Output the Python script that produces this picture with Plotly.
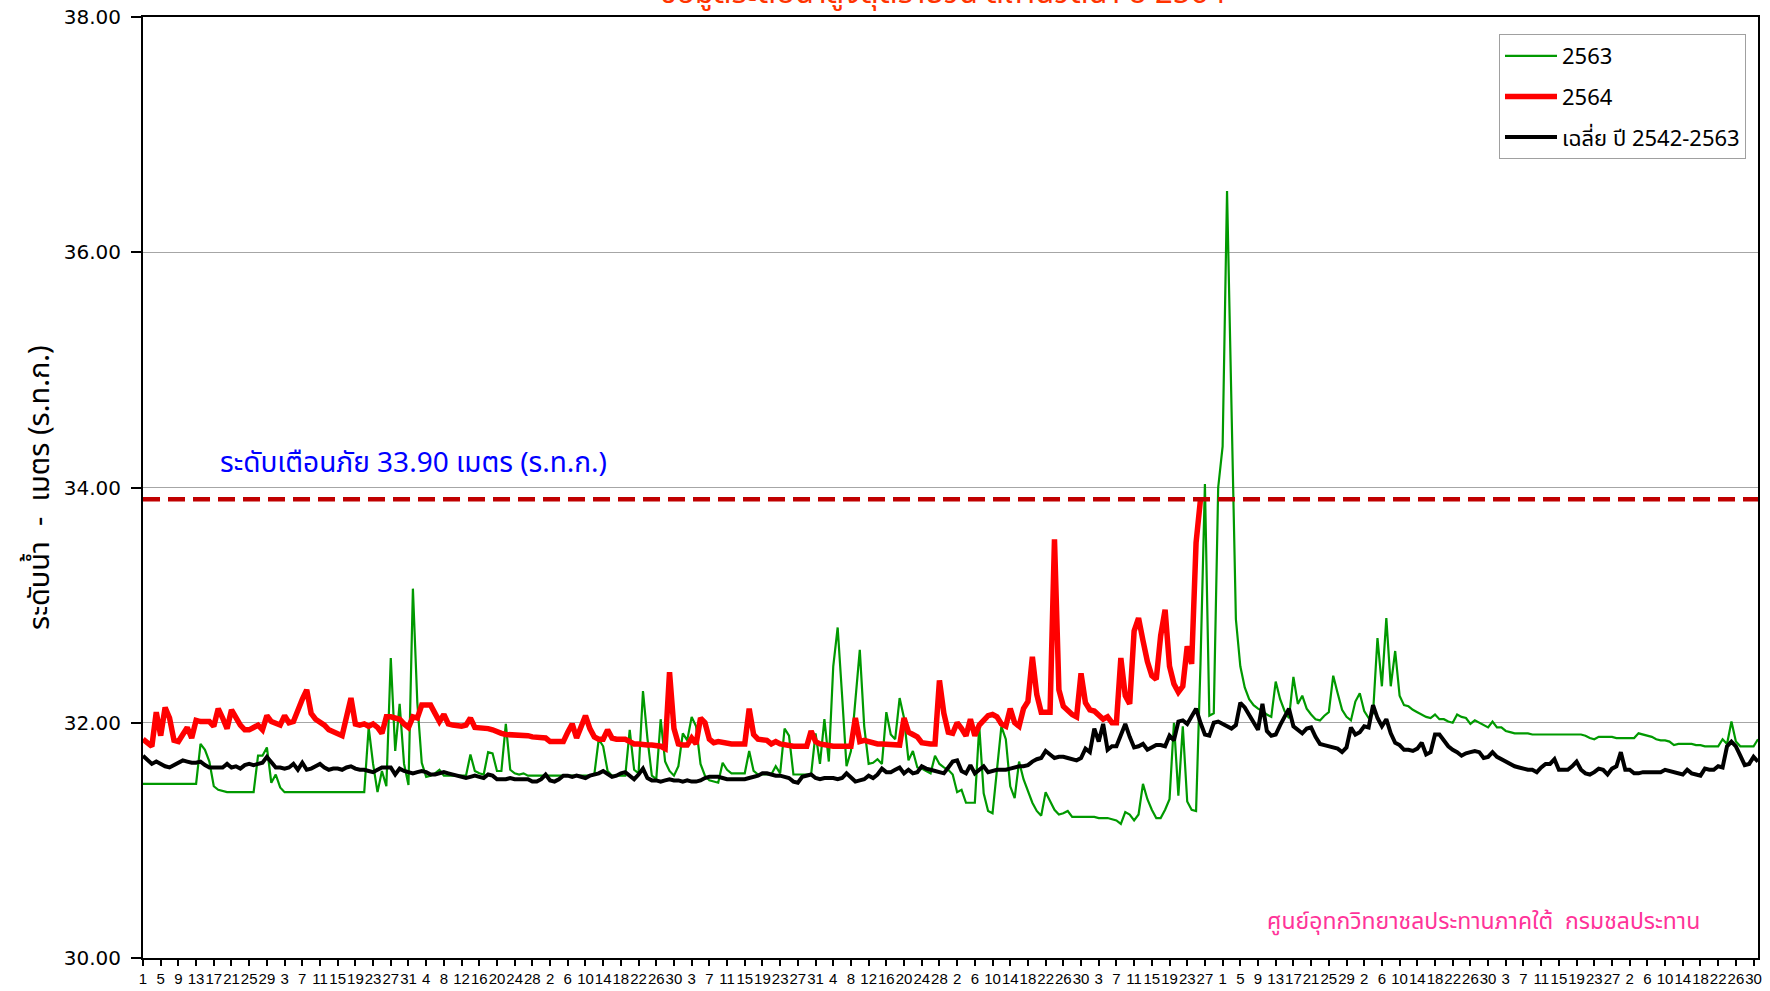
import plotly.graph_objects as go

# ---------------- data ----------------
days = list(range(366))  # 1 Apr .. 31 Mar (Feb with 29 days)

tick_labels = [
    "1", "5", "9", "13", "17", "21", "25", "29",
    "3", "7", "11", "15", "19", "23", "27", "31",
    "4", "8", "12", "16", "20", "24", "28",
    "2", "6", "10", "14", "18", "22", "26", "30",
    "3", "7", "11", "15", "19", "23", "27", "31",
    "4", "8", "12", "16", "20", "24", "28",
    "2", "6", "10", "14", "18", "22", "26", "30",
    "3", "7", "11", "15", "19", "23", "27",
    "1", "5", "9", "13", "17", "21", "25", "29",
    "2", "6", "10", "14", "18", "22", "26", "30",
    "3", "7", "11", "15", "19", "23", "27",
    "2", "6", "10", "14", "18", "22", "26", "30",
]
tick_positions = [4 * i for i in range(len(tick_labels))]

level_2563 = [
    31.48, 31.48, 31.48, 31.48, 31.48, 31.48, 31.48, 31.48, 31.48, 31.48,
    31.48, 31.48, 31.48, 31.82, 31.77, 31.67, 31.46, 31.43, 31.42, 31.41,
    31.41, 31.41, 31.41, 31.41, 31.41, 31.41, 31.72, 31.72, 31.79, 31.49,
    31.56, 31.45, 31.41, 31.41, 31.41, 31.41, 31.41, 31.41, 31.41, 31.41,
    31.41, 31.41, 31.41, 31.41, 31.41, 31.41, 31.41, 31.41, 31.41, 31.41,
    31.41, 31.96, 31.65, 31.41, 31.59, 31.46, 32.55, 31.76, 32.16, 31.65,
    31.47, 33.14, 32.17, 31.66, 31.54, 31.55, 31.57, 31.60, 31.55, 31.55,
    31.55, 31.55, 31.55, 31.55, 31.73, 31.59, 31.57, 31.56, 31.75, 31.74,
    31.59, 31.59, 31.99, 31.60, 31.57, 31.56, 31.57, 31.55, 31.55, 31.55,
    31.55, 31.55, 31.55, 31.55, 31.55, 31.55, 31.55, 31.55, 31.55, 31.55,
    31.55, 31.55, 31.56, 31.86, 31.80, 31.59, 31.55, 31.55, 31.55, 31.55,
    31.94, 31.60, 31.57, 32.27, 31.87, 31.55, 31.52, 32.03, 31.67, 31.59,
    31.55, 31.63, 31.91, 31.85, 32.05, 31.97, 31.65, 31.55, 31.51, 31.50,
    31.49, 31.66, 31.60, 31.57, 31.57, 31.57, 31.57, 31.76, 31.59, 31.56,
    31.56, 31.56, 31.56, 31.63, 31.57, 31.95, 31.89, 31.56, 31.56, 31.56,
    31.56, 31.56, 31.91, 31.65, 32.03, 31.67, 32.48, 32.81, 32.23, 31.63,
    31.76, 32.17, 32.62, 31.97, 31.65, 31.66, 31.69, 31.65, 32.09, 31.90,
    31.86, 32.21, 32.04, 31.68, 31.76, 31.62, 31.61, 31.59, 31.57, 31.72,
    31.65, 31.62, 31.60, 31.56, 31.41, 31.43, 31.32, 31.32, 31.32, 31.97,
    31.40, 31.25, 31.23, 31.60, 31.97, 31.86, 31.46, 31.36, 31.67, 31.52,
    31.42, 31.32, 31.25, 31.21, 31.41, 31.33, 31.26, 31.22, 31.23, 31.25,
    31.20, 31.20, 31.20, 31.20, 31.20, 31.20, 31.19, 31.19, 31.19, 31.18,
    31.17, 31.14, 31.24, 31.22, 31.17, 31.22, 31.48, 31.35, 31.26, 31.19,
    31.19, 31.26, 31.35, 32.00, 31.38, 31.97, 31.33, 31.26, 31.25, 32.50,
    34.03, 32.06, 32.08, 34.00, 34.35, 36.52, 34.60, 32.88, 32.48, 32.30,
    32.20, 32.15, 32.12, 32.10, 32.07, 32.05, 32.35, 32.20, 32.10, 32.04,
    32.39, 32.16, 32.23, 32.12, 32.07, 32.03, 32.02, 32.06, 32.09, 32.40,
    32.25, 32.11, 32.05, 32.02, 32.18, 32.25, 32.10, 32.04, 32.08, 32.72,
    32.31, 32.89, 32.31, 32.61, 32.23, 32.15, 32.14, 32.11, 32.09, 32.07,
    32.05, 32.04, 32.07, 32.03, 32.03, 32.01, 32.00, 32.07, 32.05, 32.04,
    31.99, 32.02, 32.00, 31.98, 31.96, 32.01, 31.96, 31.96, 31.93, 31.92,
    31.91, 31.91, 31.91, 31.91, 31.90, 31.90, 31.90, 31.90, 31.90, 31.90,
    31.90, 31.90, 31.90, 31.90, 31.90, 31.90, 31.89, 31.87, 31.86, 31.88,
    31.88, 31.88, 31.88, 31.87, 31.87, 31.87, 31.87, 31.87, 31.91, 31.90,
    31.89, 31.88, 31.86, 31.85, 31.85, 31.84, 31.81, 31.82, 31.82, 31.82,
    31.82, 31.81, 31.81, 31.80, 31.80, 31.80, 31.80, 31.86, 31.82, 32.01,
    31.84, 31.80, 31.80, 31.80, 31.80, 31.86,
]

level_2564 = [
    31.86, 31.83, 31.80, 32.09, 31.89, 32.13, 32.04, 31.85, 31.84, 31.90,
    31.96, 31.87, 32.02, 32.01, 32.01, 32.01, 31.97, 32.12, 32.04, 31.95,
    32.11, 32.04, 31.98, 31.94, 31.94, 31.96, 31.98, 31.94, 32.06, 32.01,
    32.00, 31.98, 32.06, 32.00, 32.01, 32.12, 32.20, 32.28, 32.08, 32.03,
    32.01, 31.98, 31.94, 31.92, 31.91, 31.89, 32.05, 32.21, 31.99, 31.98,
    31.99, 31.97, 31.99, 31.96, 31.91, 32.05, 32.05, 32.04, 32.03, 31.99,
    31.96, 32.05, 32.04, 32.15, 32.15, 32.15, 32.08, 32.01, 32.07, 31.99,
    31.98, 31.97, 31.97, 31.98, 32.04, 31.96, 31.96, 31.95, 31.95, 31.94,
    31.92, 31.91, 31.90, 31.90, 31.90, 31.90, 31.90, 31.89, 31.88, 31.88,
    31.87, 31.87, 31.84, 31.84, 31.84, 31.84, 31.92, 31.99, 31.87, 31.97,
    32.06, 31.95, 31.88, 31.86, 31.86, 31.94, 31.87, 31.86, 31.86, 31.86,
    31.84, 31.82, 31.82, 31.81, 31.81, 31.81, 31.81, 31.80, 31.78, 32.43,
    31.95, 31.82, 31.81, 31.81, 31.87, 31.82, 32.04, 32.00, 31.86, 31.83,
    31.84, 31.83, 31.82, 31.82, 31.82, 31.82, 31.82, 32.12, 31.90, 31.86,
    31.86, 31.85, 31.82, 31.84, 31.82, 31.81, 31.81, 31.80, 31.80, 31.80,
    31.80, 31.93, 31.84, 31.82, 31.81, 31.81, 31.80, 31.80, 31.80, 31.80,
    31.80, 32.04, 31.84, 31.85, 31.84, 31.82, 31.82, 31.82, 31.82, 31.81,
    31.81, 31.81, 32.04, 31.92, 31.90, 31.88, 31.83, 31.82, 31.82, 31.82,
    32.36, 32.08, 31.92, 31.91, 32.00, 31.95, 31.89, 32.03, 31.89, 31.98,
    32.02, 32.06, 32.07, 32.05, 31.99, 31.97, 32.12, 32.00, 31.97, 32.12,
    32.18, 32.56, 32.24, 32.09, 32.09, 32.09, 33.56, 32.28, 32.14, 32.10,
    32.07, 32.05, 32.42, 32.17, 32.11, 32.10, 32.06, 32.03, 32.05, 32.00,
    32.00, 32.55, 32.23, 32.16, 32.78, 32.89, 32.70, 32.52, 32.40, 32.37,
    32.74, 32.96, 32.48, 32.33, 32.26, 32.31, 32.65, 32.50, 33.53, 33.90,
]

level_avg = [
    31.72, 31.68, 31.65, 31.67, 31.65, 31.63, 31.62, 31.64, 31.66, 31.68,
    31.67, 31.66, 31.66, 31.67, 31.64, 31.62, 31.62, 31.62, 31.62, 31.65,
    31.62, 31.63, 31.61, 31.64, 31.65, 31.64, 31.65, 31.66, 31.71, 31.67,
    31.62, 31.62, 31.61, 31.62, 31.65, 31.60, 31.66, 31.60, 31.61, 31.63,
    31.65, 31.62, 31.60, 31.61, 31.61, 31.60, 31.62, 31.63, 31.61, 31.60,
    31.60, 31.59, 31.58, 31.60, 31.62, 31.62, 31.62, 31.56, 31.61, 31.59,
    31.58, 31.57, 31.58, 31.59, 31.58, 31.56, 31.56, 31.57, 31.58, 31.57,
    31.56, 31.55, 31.54, 31.53, 31.54, 31.55, 31.54, 31.53, 31.56, 31.55,
    31.52, 31.52, 31.52, 31.53, 31.52, 31.52, 31.52, 31.52, 31.50, 31.50,
    31.52, 31.56, 31.51, 31.50, 31.52, 31.55, 31.55, 31.54, 31.55, 31.54,
    31.53, 31.55, 31.56, 31.57, 31.59, 31.56, 31.54, 31.55, 31.57, 31.58,
    31.55, 31.52, 31.56, 31.61, 31.53, 31.51, 31.51, 31.50, 31.51, 31.52,
    31.51, 31.51, 31.50, 31.51, 31.50, 31.50, 31.51, 31.53, 31.54, 31.54,
    31.54, 31.53, 31.52, 31.52, 31.52, 31.52, 31.52, 31.53, 31.54, 31.55,
    31.57, 31.57, 31.56, 31.55, 31.55, 31.54, 31.53, 31.50, 31.49, 31.54,
    31.55, 31.56, 31.53, 31.52, 31.53, 31.53, 31.53, 31.52, 31.53, 31.57,
    31.53, 31.50, 31.51, 31.52, 31.55, 31.53, 31.56, 31.61, 31.58, 31.58,
    31.60, 31.62, 31.57, 31.60, 31.57, 31.58, 31.63, 31.61, 31.60, 31.59,
    31.58, 31.57, 31.62, 31.67, 31.68, 31.59, 31.57, 31.64, 31.57, 31.60,
    31.63, 31.58, 31.59, 31.60, 31.60, 31.60, 31.61, 31.62, 31.63, 31.63,
    31.64, 31.67, 31.69, 31.70, 31.76, 31.73, 31.70, 31.71, 31.71, 31.70,
    31.69, 31.68, 31.70, 31.78, 31.75, 31.95, 31.84, 31.99, 31.77, 31.80,
    31.80, 31.90, 31.99, 31.88, 31.79, 31.80, 31.82, 31.77, 31.79, 31.81,
    31.81, 31.80, 31.89, 31.85, 32.01, 32.02, 31.99, 32.05, 32.12, 32.00,
    31.90, 31.89, 32.00, 32.01, 31.99, 31.97, 31.95, 31.98, 32.17, 32.13,
    32.07, 32.00, 31.94, 32.16, 31.93, 31.89, 31.90, 31.98, 32.05, 32.12,
    31.97, 31.94, 31.91, 31.95, 31.96, 31.88, 31.82, 31.81, 31.80, 31.79,
    31.78, 31.75, 31.79, 31.96, 31.90, 31.92, 31.97, 31.96, 32.15, 32.04,
    31.97, 32.03, 31.91, 31.83, 31.81, 31.77, 31.77, 31.76, 31.78, 31.83,
    31.73, 31.75, 31.90, 31.90, 31.85, 31.80, 31.77, 31.75, 31.72, 31.74,
    31.75, 31.76, 31.75, 31.70, 31.71, 31.75, 31.71, 31.69, 31.67, 31.65,
    31.63, 31.62, 31.61, 31.60, 31.60, 31.58, 31.62, 31.65, 31.65, 31.69,
    31.60, 31.60, 31.60, 31.63, 31.67, 31.60, 31.57, 31.56, 31.58, 31.61,
    31.60, 31.56, 31.61, 31.63, 31.75, 31.60, 31.60, 31.57, 31.57, 31.58,
    31.58, 31.58, 31.58, 31.58, 31.60, 31.59, 31.58, 31.57, 31.56, 31.60,
    31.57, 31.56, 31.55, 31.61, 31.60, 31.60, 31.63, 31.62, 31.80, 31.84,
    31.80, 31.72, 31.64, 31.65, 31.71, 31.67,
]

warning_level = 33.90
series_names = ["2563", "2564", "เฉลี่ย ปี 2542-2563"]

# ---------------- layout geometry ----------------
W, H = 1770, 991
ML, MR, MT, MB = 143, 12, 17, 33
PW, PH = W - ML - MR, H - MT - MB


def px_x(x):
    return (x - ML) / PW


def px_y(y):
    return (H - MB - y) / PH


THAI = "Tahoma, 'Noto Sans Thai', 'Leelawadee UI', 'DejaVu Sans', sans-serif"

fig = go.Figure()
fig.add_trace(go.Scatter(x=days[:len(level_2563)], y=level_2563, mode="lines",
                         name=series_names[0], legendgroup="a",
                         line=dict(color="#009900", width=2.2)))
fig.add_trace(go.Scatter(x=days[:len(level_2564)], y=level_2564, mode="lines",
                         name=series_names[1], legendgroup="b",
                         line=dict(color="#FF0000", width=5.5)))
fig.add_trace(go.Scatter(x=days[:len(level_avg)], y=level_avg, mode="lines",
                         name=series_names[2], legendgroup="c",
                         line=dict(color="#000000", width=4)))

fig.add_shape(type="line", xref="x", yref="y", x0=0, x1=365,
              y0=warning_level, y1=warning_level,
              line=dict(color="#C00000", width=4.5, dash="17px,8px"))

annotations = [
    dict(x=17.0, y=34.20, xref="x", yref="y", xanchor="left", yanchor="middle",
         showarrow=False, text="ระดับเตือนภัย 33.90 เมตร (ร.ท.ก.)",
         font=dict(family=THAI, size=28, color="#0000FF")),
    dict(x=px_x(1483), y=px_y(922), xref="paper", yref="paper",
         xanchor="center", yanchor="middle", showarrow=False,
         text="ศูนย์อุทกวิทยาชลประทานภาคใต้  กรมชลประทาน",
         font=dict(family=THAI, size=23, color="#FF3399")),
    dict(x=px_x(943), y=1, xref="paper", yref="paper", xanchor="center",
         yanchor="bottom", yshift=-2, showarrow=False,
         text="ข้อมูลระดับน้ำสูงสุดรายวัน สถานีวัดน้ำ ปี 2564",
         font=dict(family=THAI, size=31, color="#FF3300")),
    dict(x=px_x(40), y=px_y(487), xref="paper", yref="paper",
         xanchor="center", yanchor="middle", textangle=-90, showarrow=False,
         text="ระดับน้ำ  -  เมตร (ร.ท.ก.)",
         font=dict(family=THAI, size=29, color="#000000")),
]

fig.update_layout(
    width=W, height=H,
    margin=dict(l=ML, r=MR, t=MT, b=MB, autoexpand=False),
    paper_bgcolor="white", plot_bgcolor="white",
    showlegend=True,
    annotations=annotations,
    legend=dict(x=px_x(1746), y=px_y(34), xanchor="right", yanchor="top",
                bgcolor="white", bordercolor="#A0A0A0", borderwidth=1,
                font=dict(family=THAI, size=22, color="#000000"),
                itemwidth=52, tracegroupgap=9, traceorder="grouped"),
    xaxis=dict(range=[0, 365], tickmode="array", tickvals=tick_positions,
               ticktext=tick_labels, ticks="outside", ticklen=6,
               tickcolor="#000000", tickwidth=1.5, automargin=False,
               showline=True, linecolor="#000000", linewidth=2, mirror=True,
               showgrid=False, zeroline=False, tickangle=0,
               tickfont=dict(family="'Liberation Sans Narrow', 'Arial Narrow', sans-serif",
                             size=15, color="#000000")),
    yaxis=dict(range=[30, 38], tickvals=[30, 32, 34, 36, 38],
               ticktext=["30.00", "32.00", "34.00", "36.00", "38.00"],
               ticks="outside", ticklen=10, tickcolor="#000000", tickwidth=1.5,
               automargin=False, ticklabelstandoff=6,
               showline=True, linecolor="#000000", linewidth=2, mirror=True,
               showgrid=True, gridcolor="#A6A6A6", gridwidth=1, zeroline=False,
               tickfont=dict(family="'DejaVu Sans', sans-serif", size=20, color="#000000")),
)

fig.write_html(
    "out.html",
    config={"displayModeBar": False},
    post_script="document.body.style.margin='0px';"
                "document.body.style.overflow='hidden';",
)
